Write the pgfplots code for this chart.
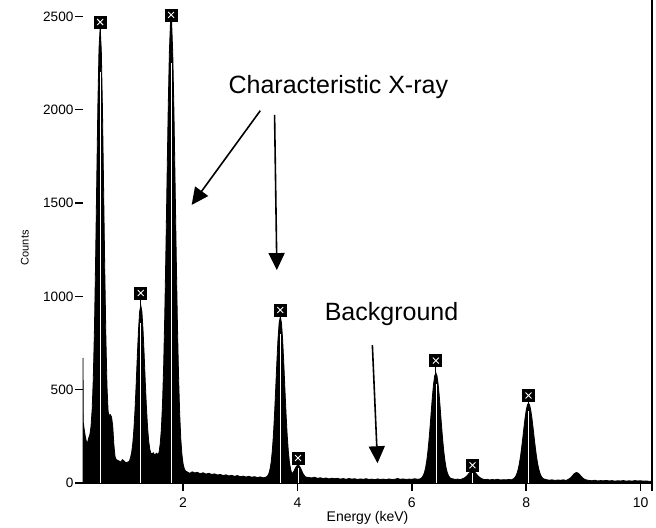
\documentclass[border=0pt]{standalone}
\usepackage{pgfplots}
\pgfplotsset{compat=1.18}
\usepackage{fontspec}
\setmainfont{Liberation Sans}
\usetikzlibrary{arrows.meta}

\begin{document}
\begin{tikzpicture}
\path[use as bounding box] (-41.5pt,-22pt) rectangle (286.5pt,241.5pt);
\begin{axis}[
  at={(0,0)}, anchor=south west,
  scale only axis,
  width=284.5pt, height=241.5pt,
  xmin=0.25, xmax=10.2,
  ymin=0, ymax=2588,
  axis x line*=bottom,
  axis y line*=left,
  axis line style={-},
  x axis line style={line width=1pt},
  y axis line style={draw=none},
  tick align=outside,
  major tick length=4pt,
  tick style={black, line width=0.75pt},
  xtick={2,4,6,8,10},
  ytick={0,500,1000,1500,2000,2500},
  /pgf/number format/assume math mode=true,
  /pgf/number format/1000 sep={},
  xticklabel style={font=\fontsize{7}{8}\selectfont},
  yticklabel style={font=\fontsize{6.8}{7.5}\selectfont, inner sep=0.6pt},
  xlabel={Energy (keV)},
  ylabel={Counts},
  xlabel style={font=\fontsize{7}{8}\selectfont, at={(axis description cs:0.5,-0.0725)}, anchor=center},
  ylabel style={font=\fontsize{5.5}{6.5}\selectfont, at={(axis description cs:-0.102,0.487)}, anchor=center},
  clip=false,
]
% stems up to the label boxes
\addplot[ycomb, black, line width=0.6pt, mark=none] coordinates {
  (0.55,2470) (1.26,1018) (1.79,2508) (3.70,927) (4.01,134)
  (6.42,656) (7.06,95) (8.04,469)
};
% spectrum
\addplot[fill=black, draw=black, line width=0.4pt, mark=none] coordinates {
  (0.25,670) (0.255,325) (0.27,290) (0.29,250) (0.31,222) (0.33,216)
  (0.35,242) (0.37,259) (0.39,303) (0.41,394) (0.43,561) (0.45,822)
  (0.47,1185) (0.49,1611) (0.51,2025) (0.53,2329) (0.55,2440) (0.57,2321)
  (0.59,2009) (0.61,1587) (0.63,1153) (0.65,782) (0.67,513) (0.69,380)
  (0.71,362) (0.73,366) (0.75,352) (0.77,305) (0.79,205) (0.81,142)
  (0.83,126) (0.85,122) (0.88,118) (0.91,112) (0.94,125) (0.97,118)
  (1.00,108) (1.03,112) (1.06,116) (1.08,135) (1.10,163) (1.12,211)
  (1.14,288) (1.16,396) (1.18,531) (1.20,682) (1.22,818) (1.24,917)
  (1.26,952) (1.28,918) (1.30,819) (1.32,683) (1.34,534) (1.36,400)
  (1.38,294) (1.40,221) (1.42,178) (1.44,158) (1.46,158) (1.48,162)
  (1.50,150) (1.52,155) (1.54,160) (1.56,150) (1.58,165) (1.60,209)
  (1.62,288) (1.64,421) (1.66,624) (1.68,903) (1.70,1250) (1.72,1636)
  (1.74,2009) (1.76,2306) (1.78,2471) (1.79,2492) (1.80,2468) (1.82,2297)
  (1.84,1994) (1.86,1615) (1.88,1223) (1.90,870) (1.92,585) (1.94,376)
  (1.96,237) (1.98,152) (2.00,103) (2.02,78) (2.04,65) (2.08,58)
  (2.12,52) (2.16,60) (2.20,54) (2.25,57) (2.30,50) (2.35,55)
  (2.40,48) (2.45,52) (2.50,46) (2.55,49) (2.60,43) (2.65,46)
  (2.70,40) (2.75,44) (2.80,38) (2.85,41) (2.90,36) (2.95,40)
  (3.00,34) (3.05,37) (3.10,32) (3.15,36) (3.20,31) (3.25,34)
  (3.30,29) (3.35,33) (3.40,28) (3.45,31) (3.48,39) (3.50,51)
  (3.52,74) (3.54,111) (3.56,172) (3.58,259) (3.60,374) (3.62,508)
  (3.64,649) (3.66,773) (3.68,859) (3.70,890) (3.72,859) (3.74,773)
  (3.76,649) (3.78,508) (3.80,374) (3.82,259) (3.84,172) (3.86,111)
  (3.88,74) (3.90,52) (3.92,55) (3.94,64) (3.96,78) (3.98,88)
  (4.00,95) (4.02,95) (4.04,88) (4.06,76) (4.08,62) (4.10,49)
  (4.12,40) (4.14,33) (4.18,30) (4.20,30) (4.25,27) (4.30,31)
  (4.35,25) (4.40,28) (4.45,24) (4.50,27) (4.55,22) (4.60,26)
  (4.65,23) (4.70,25) (4.75,21) (4.80,24) (4.85,20) (4.90,24)
  (4.95,21) (5.00,23) (5.05,19) (5.10,22) (5.15,20) (5.20,23)
  (5.25,19) (5.30,21) (5.35,18) (5.40,22) (5.45,19) (5.50,21)
  (5.55,18) (5.60,22) (5.65,19) (5.70,20) (5.75,24) (5.80,20)
  (5.85,22) (5.90,19) (5.95,21) (6.00,20) (6.05,23) (6.10,20)
  (6.14,22) (6.16,25) (6.18,31) (6.20,40) (6.22,56) (6.24,80)
  (6.26,117) (6.28,167) (6.30,230) (6.32,305) (6.34,386) (6.36,465)
  (6.38,530) (6.40,575) (6.42,590) (6.44,575) (6.46,530) (6.48,465)
  (6.50,386) (6.52,305) (6.54,230) (6.56,167) (6.58,117) (6.60,80)
  (6.62,56) (6.64,40) (6.66,31) (6.68,25) (6.72,22) (6.76,19)
  (6.80,21) (6.84,18) (6.88,22) (6.92,27) (6.96,37) (6.98,44)
  (7.00,52) (7.02,58) (7.04,62) (7.06,64) (7.08,62) (7.10,58)
  (7.12,52) (7.14,44) (7.16,37) (7.20,27) (7.24,21) (7.28,18)
  (7.32,20) (7.36,16) (7.40,19) (7.45,17) (7.50,20) (7.55,16)
  (7.60,18) (7.65,17) (7.70,19) (7.74,17) (7.78,23) (7.80,29)
  (7.82,38) (7.84,53) (7.86,74) (7.88,104) (7.90,142) (7.92,189)
  (7.94,241) (7.96,296) (7.98,348) (8.00,390) (8.02,418) (8.04,428)
  (8.06,418) (8.08,390) (8.10,348) (8.12,296) (8.14,241) (8.16,189)
  (8.18,142) (8.20,104) (8.22,74) (8.24,53) (8.26,38) (8.28,29)
  (8.30,23) (8.35,18) (8.40,15) (8.45,17) (8.50,14) (8.55,16)
  (8.60,15) (8.65,17) (8.70,14) (8.74,20) (8.78,29) (8.82,43)
  (8.84,50) (8.86,54) (8.88,56) (8.90,54) (8.92,50) (8.94,43)
  (8.98,29) (9.02,20) (9.06,16) (9.10,14) (9.15,12) (9.20,15)
  (9.25,11) (9.30,13) (9.35,12) (9.40,14) (9.45,11) (9.50,13)
  (9.55,10) (9.60,12) (9.65,11) (9.70,13) (9.75,10) (9.80,12)
  (9.85,10) (9.90,13) (9.95,11) (10.00,12) (10.05,10) (10.10,11)
  (10.15,9) (10.20,10)
} \closedcycle;
% white KLM line markers inside the peaks
\addplot[ycomb, white, line width=0.35pt, mark=none] coordinates {
  (0.55,2200) (1.26,860) (1.79,2250) (3.70,800) (4.01,80)
  (6.42,530) (7.06,55) (8.04,385)
};
% label boxes: dark square with a light cross-hatch
\addplot[only marks, mark=square*, mark size=3pt, black, mark options={fill=black}] coordinates {
  (0.55,2470) (1.26,1018) (1.79,2508) (3.70,927) (4.01,134)
  (6.42,656) (7.06,95) (8.04,469)
};
\addplot[only marks, mark=x, mark size=2.1pt, white, mark options={line width=0.45pt}] coordinates {
  (0.55,2470) (1.26,1018) (1.79,2508) (3.70,927) (4.01,134)
  (6.42,656) (7.06,95) (8.04,469)
};
% frame line at the right
\draw[line width=0.75pt] ([yshift=-4pt]rel axis cs:1,0) -- (rel axis cs:1,1);
% annotations
\node[anchor=base, font=\fontsize{12.5}{14}\selectfont] at (axis cs:4.715,2088) {Characteristic X-ray};
\node[anchor=base, font=\fontsize{12.5}{14}\selectfont] at (axis cs:5.645,873) {Background};
\draw[line width=0.8pt, -{Triangle[length=8.5pt,width=8pt]}] (axis cs:3.35,1995) -- (axis cs:2.15,1490);
\draw[line width=0.8pt, -{Triangle[length=8.5pt,width=8pt]}] (axis cs:3.60,1972) -- (axis cs:3.64,1141);
\draw[line width=0.8pt, -{Triangle[length=8.5pt,width=8pt]}] (axis cs:5.31,739) -- (axis cs:5.40,106);
\end{axis}
\end{tikzpicture}
\end{document}
